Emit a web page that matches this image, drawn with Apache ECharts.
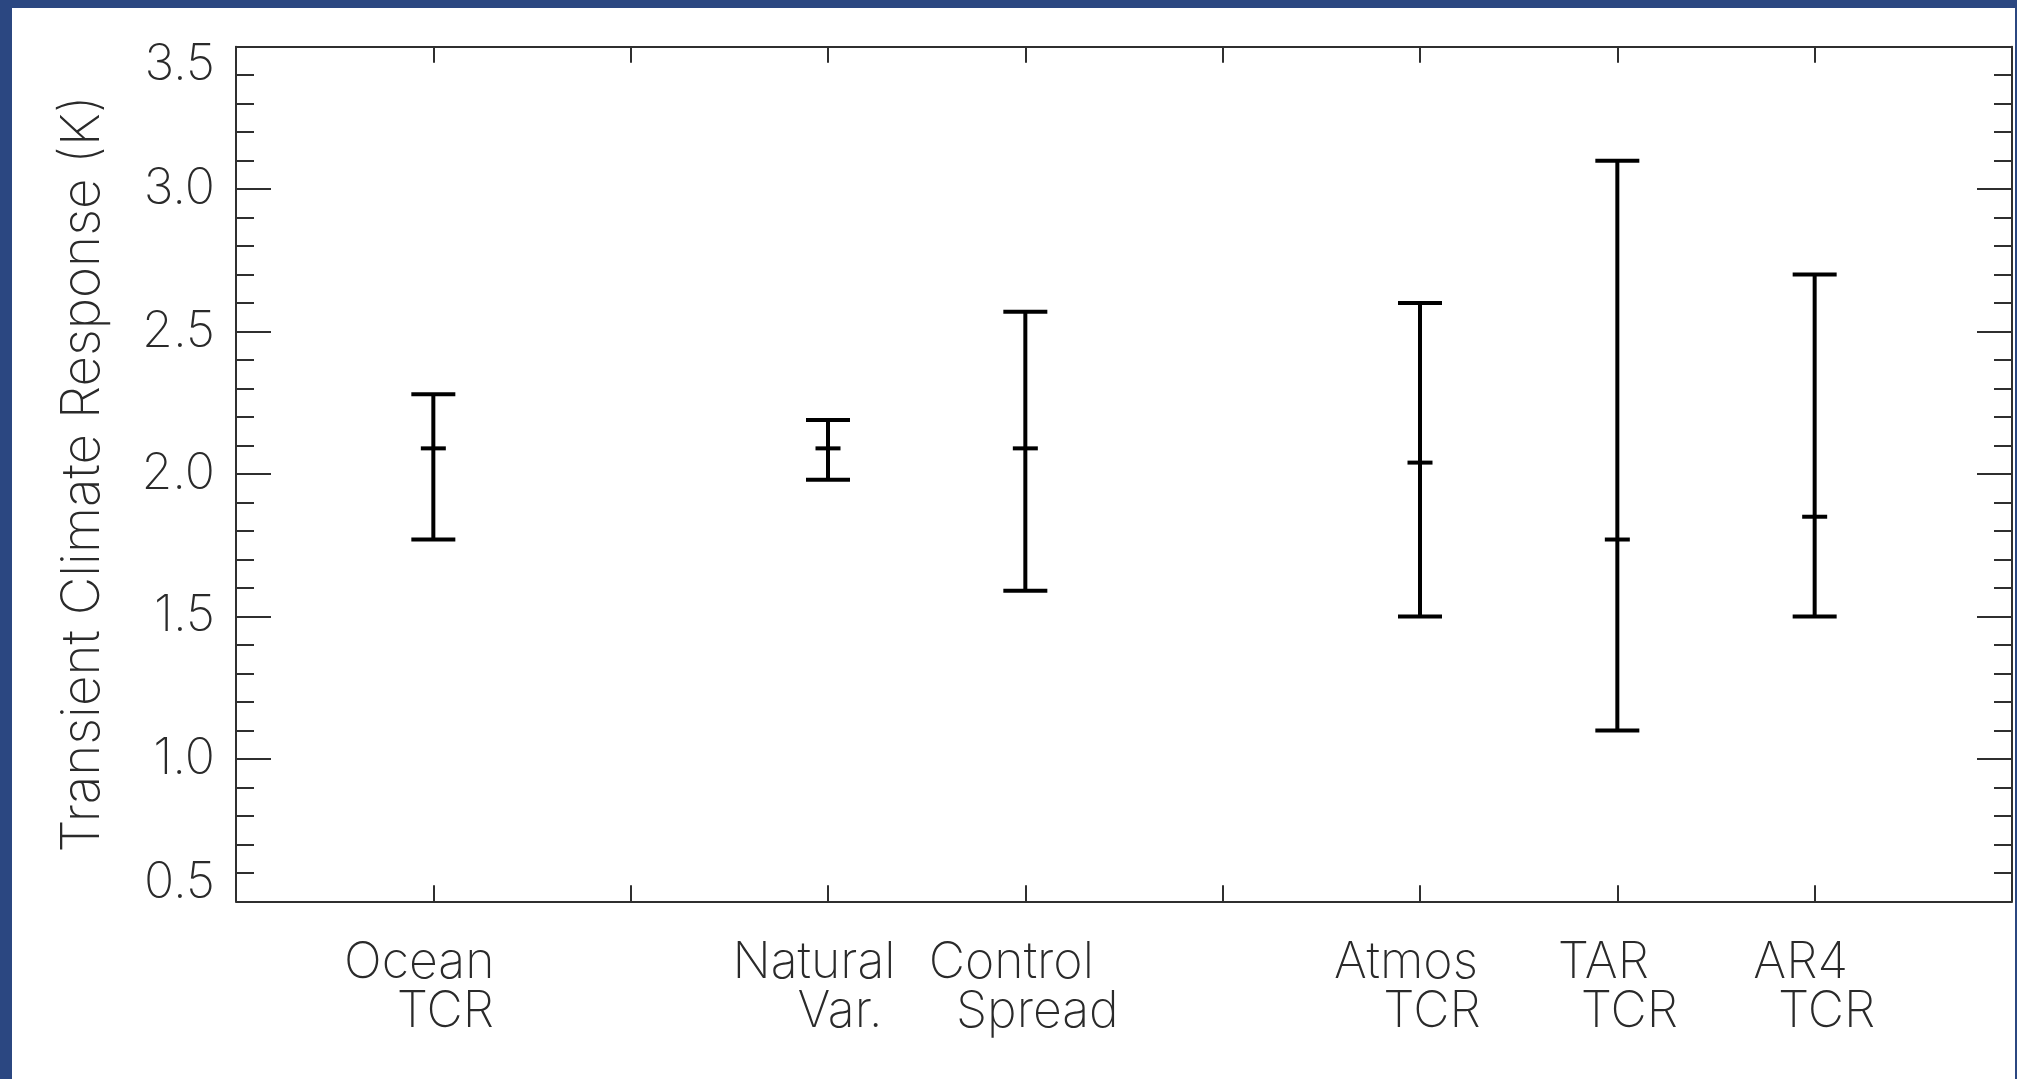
<!DOCTYPE html>
<html>
<head>
<meta charset="utf-8">
<script src="https://cdn.jsdelivr.net/npm/echarts@6/dist/echarts.min.js"></script>
<style>
  html, body { margin: 0; padding: 0; width: 2017px; height: 1079px; background: #2b4781; overflow: hidden; }
  #chart { position: absolute; left: 12px; top: 8px; width: 2003px; height: 1071px; background: #ffffff; }
</style>
</head>
<body>
<div id="chart"></div>
<script>
// ---- data ----
const labelLine1 = ['Ocean', 'Natural', 'Control', 'Atmos', 'TAR', 'AR4'];
const labelLine2 = ['TCR', 'Var.', 'Spread', 'TCR', 'TCR', 'TCR'];
const xPositions = [1, 3, 4, 6, 7, 8];
const lowValues  = [1.77, 1.98, 1.59, 1.50, 1.10, 1.50];
const midValues  = [2.09, 2.09, 2.09, 2.04, 1.77, 1.85];
const highValues = [2.28, 2.19, 2.57, 2.60, 3.10, 2.70];
const yTickMin = 0.5, yTickMax = 3.5, yTickStep = 0.5;
const xMin = 0, xMax = 9, xStep = 1;
const yAxisTitle = 'Transient Climate Response (K)';

// ---- build ----
const seriesData = xPositions.map((x, i) => [x, lowValues[i], midValues[i], highValues[i]]);
const FONT = 'Inter, "Open Sans", Roboto, sans-serif';
const FW = 200;
const TEXT_COLOR = '#2a2a2a';
const AXIS_COLOR = '#2f2f2f';

const chart = echarts.init(document.getElementById('chart'));

const axisLine = { show: true, onZero: false, lineStyle: { color: AXIS_COLOR, width: 2 } };
const tickStyle = { color: AXIS_COLOR, width: 2 };

const option = {
  animation: false,
  backgroundColor: '#ffffff',
  grid: { left: 224, top: 38.7, width: 1777, height: 854.6, containLabel: false },
  xAxis: [
    {
      type: 'value', position: 'bottom', min: xMin, max: xMax, interval: xStep,
      axisLine: axisLine,
      axisTick: { show: true, inside: true, length: 16, lineStyle: tickStyle },
      splitLine: { show: false },
      axisLabel: {
        show: true, margin: 37,
        formatter: function (v) {
          const i = xPositions.indexOf(v);
          if (i < 0) return '';
          return '{a|' + labelLine1[i] + '}\n{b|' + labelLine2[i] + '}';
        },
        rich: {
          a: { fontFamily: FONT, fontWeight: FW, fontSize: 50, lineHeight: 49, color: TEXT_COLOR, padding: [0, 28, 0, 0] },
          b: { fontFamily: FONT, fontWeight: FW, fontSize: 50, lineHeight: 49, color: TEXT_COLOR, padding: [0, 0, 0, 24] }
        }
      }
    },
    {
      type: 'value', position: 'top', min: xMin, max: xMax, interval: xStep,
      axisLine: axisLine,
      axisTick: { show: true, inside: true, length: 16, lineStyle: tickStyle },
      splitLine: { show: false },
      axisLabel: { show: false }
    }
  ],
  yAxis: [
    {
      type: 'value', position: 'left', min: yTickMin, max: yTickMax, interval: yTickStep,
      name: yAxisTitle, nameLocation: 'middle', nameGap: 128, nameRotate: 90,
      nameTextStyle: { fontFamily: FONT, fontWeight: FW, fontSize: 53, color: TEXT_COLOR, lineHeight: 50 },
      axisLine: axisLine,
      axisTick: { show: true, inside: true, length: 35, lineStyle: tickStyle },
      minorTick: { show: true, splitNumber: 5, length: 18, lineStyle: tickStyle },
      splitLine: { show: false },
      axisLabel: {
        show: true, margin: 21, fontFamily: FONT, fontWeight: FW, fontSize: 50, color: TEXT_COLOR,
        formatter: function (v) {
          const s = v.toFixed(1);
          if (v === yTickMin || v === yTickMax) return '{e|' + s + '}';
          return s;
        },
        rich: {
          e: { fontFamily: FONT, fontWeight: FW, fontSize: 50, lineHeight: 36, color: TEXT_COLOR }
        },
        verticalAlignMinLabel: 'bottom', verticalAlignMaxLabel: 'top'
      }
    },
    {
      type: 'value', position: 'right', min: yTickMin, max: yTickMax, interval: yTickStep,
      axisLine: axisLine,
      axisTick: { show: true, inside: true, length: 35, lineStyle: tickStyle },
      minorTick: { show: true, splitNumber: 5, length: 18, lineStyle: tickStyle },
      splitLine: { show: false },
      axisLabel: { show: false }
    }
  ],
  series: [
    {
      type: 'custom',
      xAxisIndex: 0, yAxisIndex: 0,
      data: seriesData,
      clip: false,
      renderItem: function (params, api) {
        const x = api.value(0);
        const pLo = api.coord([x, api.value(1)]);
        const pMid = api.coord([x, api.value(2)]);
        const pHi = api.coord([x, api.value(3)]);
        const capHalf = 22, midHalf = 12.5;
        const st = { stroke: '#000', lineWidth: 4 };
        return {
          type: 'group',
          children: [
            { type: 'line', shape: { x1: pLo[0], y1: pLo[1], x2: pHi[0], y2: pHi[1] }, style: st },
            { type: 'line', shape: { x1: pHi[0] - capHalf, y1: pHi[1], x2: pHi[0] + capHalf, y2: pHi[1] }, style: st },
            { type: 'line', shape: { x1: pLo[0] - capHalf, y1: pLo[1], x2: pLo[0] + capHalf, y2: pLo[1] }, style: st },
            { type: 'line', shape: { x1: pMid[0] - midHalf, y1: pMid[1], x2: pMid[0] + midHalf, y2: pMid[1] }, style: st }
          ]
        };
      }
    }
  ]
};
chart.setOption(option);
</script>
</body>
</html>
